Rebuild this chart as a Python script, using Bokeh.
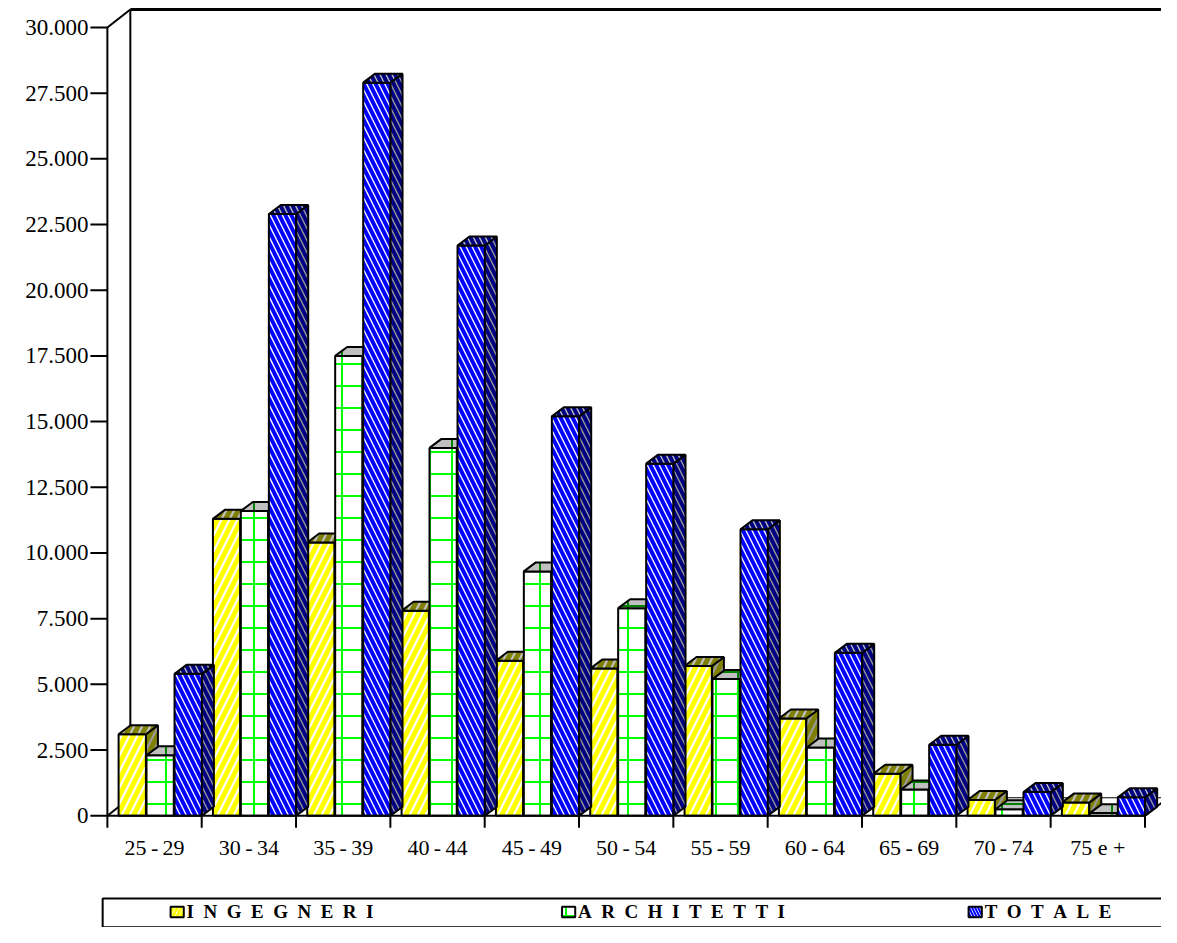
from bokeh.plotting import figure
from bokeh.models import Range1d
from bokeh.core.properties import value
from bokeh.embed import file_html
from bokeh.resources import INLINE

categorie = ["25-29", "30-34", "35-39", "40-44", "45-49", "50-54",
             "55-59", "60-64", "65-69", "70-74", "75 e +"]
ingegneri = [3100, 11300, 10400, 7800, 5900, 5600, 5700, 3700, 1600, 600, 500]
architetti = [2300, 11600, 17500, 14000, 9300, 7900, 5200, 2600, 1000, 250, 100]
totale = [5400, 22900, 27900, 21700, 15200, 13400, 10900, 6200, 2700, 900, 700]
y_ticks = list(range(0, 30001, 2500))
y_labels = ["0", "2.500", "5.000", "7.500", "10.000", "12.500", "15.000",
            "17.500", "20.000", "22.500", "25.000", "27.500", "30.000"]

FONT = value("Liberation Serif")
p = figure(width=1161, height=927, output_backend="svg", toolbar_location=None,
           x_range=Range1d(-1.633, 10.675), y_range=Range1d(-4253, 31026),
           min_border=0)
p.axis.visible = False
p.grid.visible = False
p.outline_line_color = None

n = len(categorie)
wdx, wdy = 0.2434, 684  # depth of the walls
# back wall and floor
p.line([-0.5 + wdx, -0.5 + wdx], [wdy, 30000 + wdy], line_color="black", line_width=2)
p.line([-0.5 + wdx, 10.76], [30000 + wdy] * 2, line_color="black", line_width=3)
p.line([n - 0.5 + wdx] * 2, [wdy, 30000 + wdy], line_color="black", line_width=2)
p.line([-0.5, -0.5 + wdx], [30000, 30000 + wdy], line_color="black", line_width=2)
p.line([-0.5, -0.5 + wdx], [0, wdy], line_color="black", line_width=2)
p.line([n - 0.5, n - 0.5 + wdx], [0, wdy], line_color="black", line_width=2)
p.line([-0.5 + wdx, n - 0.5 + wdx], [wdy, wdy], line_color="black", line_width=1)

# bars
bw, bdx, bdy = 0.29, 0.127, 342
series = [
    (ingegneri, -0.381, "#FFFF00", "#808000", "/", 16, 5),
    (architetti, -0.085, "#00FF00", "#008000", "+", 22, 2),
    (totale, 0.212, "#0000FF", "#000080", "\\", 12, 4),
]
for vals, off, col, dark, hp, hs, hw in series:
    left = [i + off for i in range(n)]
    right = [l + bw for l in left]
    p.quad(left=left, right=right, bottom=0, top=vals, fill_color="white",
           hatch_pattern=hp, hatch_color=col, hatch_scale=hs, hatch_weight=hw,
           line_color="black", line_width=2)
    sx = [[r, r + bdx, r + bdx, r] for r in right]
    sy = [[0, bdy, v + bdy, v] for v in vals]
    p.patches(sx, sy, fill_color="#999999", hatch_pattern=hp, hatch_color=dark,
              hatch_scale=hs, hatch_weight=hw, line_color="black", line_width=2)
    tx = [[l, r, r + bdx, l + bdx] for l, r in zip(left, right)]
    ty = [[v, v, v + bdy, v + bdy] for v in vals]
    p.patches(tx, ty, fill_color="#C0C0C0", hatch_pattern=hp, hatch_color=dark,
              hatch_scale=hs, hatch_weight=hw, line_color="black", line_width=2)

# front axes
p.line([-0.5, -0.5], [0, 30000], line_color="black", line_width=2)
p.line([-0.5, n - 0.5], [0, 0], line_color="black", line_width=2)
p.segment(x0=-0.68, x1=-0.5, y0=y_ticks, y1=y_ticks, line_color="black", line_width=2)
bounds = [i - 0.5 for i in range(n + 1)]
p.segment(x0=bounds, x1=bounds, y0=0, y1=-456, line_color="black", line_width=2)
p.text(x=-0.70, y=y_ticks, text=y_labels, text_font=FONT, text_font_size="23px",
       text_align="right", text_baseline="middle")
p.text(x=list(range(n)), y=-1200, text=[c.replace("-", "\u2009-\u2009") for c in categorie],
       text_font=FONT, text_font_size="22px", text_align="center", text_baseline="middle")

# legend
p.quad(left=-0.55, right=10.76, top=-3150, bottom=-4240, fill_color=None,
       line_color="black", line_width=2)
leg_x = [0.24, 4.39, 8.70]
leg_t = ["I N G E G N E R I", "A R C H I T E T T I", "T O T A L E"]
leg_c = [("#FFFF00", "/", 8, 3), ("#00FF00", "+", 10, 2), ("#0000FF", "\\", 6, 2)]
for xx, t, (col, hp, hs, hw) in zip(leg_x, leg_t, leg_c):
    p.quad(left=xx - 0.07, right=xx + 0.07, bottom=-3860, top=-3460,
           fill_color="white", hatch_pattern=hp, hatch_color=col, hatch_scale=hs,
           hatch_weight=hw, line_color="black", line_width=2)
    p.text(x=xx + 0.1, y=-3660, text=[t.replace(" ", "\u2002")], text_font=FONT,
           text_font_size="19px", text_font_style="bold", text_baseline="middle")

open("out.html", "w").write(file_html(p, INLINE))
